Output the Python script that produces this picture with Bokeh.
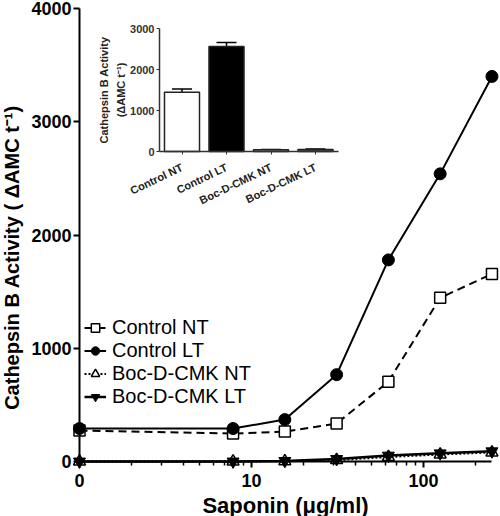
import numpy as np
from bokeh.plotting import figure
from bokeh.models import (LogAxis, LinearAxis, FixedTicker, Range1d, LinearScale, Grid,
                          CustomJSTickFormatter, Legend, LegendItem, ColumnDataSource,
                          Whisker, TeeHead)
from bokeh.embed import file_html
from bokeh.resources import INLINE

# ---------------- data ----------------
saponin = [0, 7.8125, 15.625, 31.25, 62.5, 125, 250]
control_nt = [273, 247, 264, 335, 705, 1445, 1656]
control_lt = [291, 291, 370, 767, 1780, 2540, 3400]
boc_nt = [0, 0, 2, 12, 40, 62, 80]
boc_lt = [0, 0, 5, 22, 52, 72, 90]

x_tick_values = [1, 10, 100]
x_tick_labels = ["0", "10", "100"]
x_minor = [2, 3, 4, 5, 6, 7, 8, 9, 20, 30, 40, 50, 60, 70, 80, 90, 200]
y_ticks = [0, 1000, 2000, 3000, 4000]

inset_cats = ["Control NT", "Control LT", "Boc-D-CMK NT", "Boc-D-CMK LT"]
inset_vals = [1445, 2560, 40, 50]
inset_err = [80, 100, 10, 12]
inset_fill = ["white", "black", "#e0e0e0", "#555555"]
inset_ticks = [0, 1000, 2000, 3000]

# ---------------- layout constants (pixels) ----------------
W, H = 500, 516
D = 172.0             # pixels per decade
AXX = 79              # y-axis pixel position
x_start = 10 ** (-AXX / D)
x_end = 10 ** ((W - AXX) / D)
y0_c, y4000_c = 461, 8
ppu = (y0_c - y4000_c) / 4000.0
y_end = 4000 + y4000_c / ppu
y_start = -(H - y0_c) / ppu

# inset mapping
i0_c, i3000_c = 151, 28
ippu = (i0_c - i3000_c) / 3000.0
iy_end = 3000 + i3000_c / ippu
iy_start = -(H - i0_c) / ippu
cat0_page, cat_step = 181.5, 44.5
ix_start = (0 - cat0_page) / cat_step
ix_end = (W - cat0_page) / cat_step
iaxis_u = (159 - cat0_page) / cat_step
iaxis_end = (338 - cat0_page) / cat_step

FONT = "Liberation Sans"

p = figure(width=W, height=H, x_axis_type="log", x_axis_location=None, y_axis_location=None,
           x_range=Range1d(x_start, x_end), y_range=Range1d(y_start, y_end),
           output_backend="svg", toolbar_location=None,
           min_border_left=0, min_border_right=0, min_border_top=0, min_border_bottom=0)
p.outline_line_color = None
p.background_fill_color = "white"
p.border_fill_color = "white"
for g in p.select(type=Grid):
    g.visible = False

p.extra_x_ranges = {"ix": Range1d(ix_start, ix_end)}
p.extra_y_ranges = {"iy": Range1d(iy_start, iy_end)}
p.extra_x_scales = {"ix": LinearScale()}

# ---------------- main axes ----------------
xax = LogAxis(fixed_location=0, bounds=(1, 250),
              ticker=FixedTicker(ticks=x_tick_values, minor_ticks=x_minor),
              formatter=CustomJSTickFormatter(args=dict(vals=x_tick_values, labs=x_tick_labels),
                                              code="const i = vals.indexOf(tick); return i >= 0 ? labs[i] : '';"))
xax.axis_label = "Saponin (\u03bcg/ml)"
xax.axis_line_width = 2
xax.major_tick_line_width = 2
xax.minor_tick_line_width = 1.5
xax.major_tick_out = 6
xax.major_tick_in = 0
xax.minor_tick_out = 4
xax.minor_tick_in = 0
xax.major_label_text_font = FONT
xax.major_label_text_font_style = "bold"
xax.major_label_text_font_size = "18px"
xax.major_label_text_color = "black"
xax.major_label_standoff = 6
xax.axis_label_text_font = FONT
xax.axis_label_text_font_style = "bold"
xax.axis_label_text_font_size = "22px"
xax.axis_label_text_color = "black"
xax.axis_label_standoff = 3
p.add_layout(xax, "below")

def style_y(ax):
    ax.axis_line_width = 2
    ax.major_tick_line_width = 2
    ax.major_tick_out = 6
    ax.major_tick_in = 0
    ax.minor_tick_out = 0
    ax.major_label_text_font = FONT
    ax.major_label_text_font_style = "bold"
    ax.major_label_text_font_size = "18px"
    ax.major_label_text_color = "black"
    ax.major_label_standoff = 2

# label-carrying companion axis (drawn first, in white, underneath the real axis)
ylab = LinearAxis(fixed_location=1, bounds=(-400, 4000), ticker=FixedTicker(ticks=y_ticks, minor_ticks=[]))
style_y(ylab)
ylab.axis_line_color = None
ylab.major_tick_line_color = None
ylab.major_label_text_color = "white"
ylab.axis_label = "Cathepsin B Activity ( \u0394AMC t\u207b\u00b9)"
ylab.axis_label_text_font = FONT
ylab.axis_label_text_font_style = "bold"
ylab.axis_label_text_font_size = "20px"
ylab.axis_label_text_color = "black"
ylab.axis_label_standoff = 5
p.add_layout(ylab, "left")

yax = LinearAxis(fixed_location=1, bounds=(0, 4000), ticker=FixedTicker(ticks=y_ticks, minor_ticks=[]))
style_y(yax)
p.add_layout(yax, "left")

# ---------------- series ----------------
xs = [1 if v == 0 else v for v in saponin]

series = [
    ("Control NT", control_nt, dict(line_dash="8 5", line_width=2),
     dict(marker="square", size=11, fill_color="white", line_color="black", line_width=1.5)),
    ("Control LT", control_lt, dict(line_width=2),
     dict(marker="circle", size=12, fill_color="black", line_color="black")),
    ("Boc-D-CMK NT", boc_nt, dict(line_dash="2 2", line_width=2),
     dict(marker="triangle", size=12, fill_color="white", line_color="black", line_width=1.5)),
    ("Boc-D-CMK LT", boc_lt, dict(line_width=2.5),
     dict(marker="inverted_triangle", size=12, fill_color="black", line_color="black")),
]
items = []
for name, ys, lkw, mkw in series:
    lr = p.line(xs, ys, line_color="black", **lkw)
    sr = p.scatter(xs, ys, **mkw)
    items.append(LegendItem(label=name, renderers=[lr, sr]))

leg = Legend(items=items, location=(82, 106))
leg.label_text_font = FONT
leg.label_text_font_size = "20px"
leg.label_text_color = "black"
leg.background_fill_alpha = 0
leg.border_line_alpha = 0
leg.padding = 2
leg.spacing = 0
leg.glyph_width = 22
leg.glyph_height = 21
leg.label_standoff = 6
leg.label_height = 21
leg.margin = 0
p.add_layout(leg)

# ---------------- inset ----------------
isrc = ColumnDataSource(dict(x=list(range(len(inset_cats))), top=inset_vals, fill=inset_fill,
                             hi=[v + e for v, e in zip(inset_vals, inset_err)],
                             lo=[v - e for v, e in zip(inset_vals, inset_err)]))
p.vbar(x="x", top="top", bottom=0, width=0.787, source=isrc, fill_color="fill",
       line_color="#222222", line_width=1.5, x_range_name="ix", y_range_name="iy")
wk = Whisker(base="x", upper="hi", lower="lo", source=isrc, x_range_name="ix", y_range_name="iy",
             line_width=1.5, line_color="black",
             upper_head=TeeHead(size=20, line_width=1.5, line_color="black"),
             lower_head=TeeHead(size=20, line_width=1.5, line_color="black"))
p.add_layout(wk)

iyax = LinearAxis(x_range_name="ix", y_range_name="iy", fixed_location=iaxis_u, bounds=(0, 3000),
                  ticker=FixedTicker(ticks=inset_ticks, minor_ticks=[]))
iyax.axis_label = "Cathepsin B Activity\n(\u0394AMC t\u207b\u00b9)"
iyax.axis_line_color = "#333333"
iyax.axis_line_width = 1.5
iyax.major_tick_out = 3
iyax.major_tick_in = 0
iyax.minor_tick_out = 0
iyax.major_tick_line_color = "#333333"
iyax.major_label_text_font = FONT
iyax.major_label_text_font_style = "bold"
iyax.major_label_text_font_size = "11px"
iyax.major_label_text_color = "#333333"
iyax.major_label_standoff = 2
iyax.axis_label_text_font = FONT
iyax.axis_label_text_font_style = "bold"
iyax.axis_label_text_font_size = "11px"
iyax.axis_label_text_color = "#222222"
iyax.axis_label_text_line_height = 1.4
iyax.axis_label_standoff = 0
p.add_layout(iyax, "left")

ixax = LinearAxis(x_range_name="ix", y_range_name="iy", fixed_location=0, bounds=(iaxis_u, iaxis_end),
                  ticker=FixedTicker(ticks=list(range(len(inset_cats))), minor_ticks=[]),
                  formatter=CustomJSTickFormatter(args=dict(labs=inset_cats),
                                                  code="return labs[Math.round(tick)] || '';"))
ixax.axis_line_color = "#333333"
ixax.axis_line_width = 1.5
ixax.major_tick_out = 3
ixax.major_tick_in = 0
ixax.minor_tick_out = 0
ixax.major_tick_line_color = "#333333"
ixax.major_label_orientation = 0.45
ixax.major_label_text_font = FONT
ixax.major_label_text_font_style = "bold"
ixax.major_label_text_font_size = "11px"
ixax.major_label_text_color = "#222222"
ixax.major_label_standoff = 12
p.add_layout(ixax, "below")

open("out.html", "w").write(file_html(p, INLINE))
